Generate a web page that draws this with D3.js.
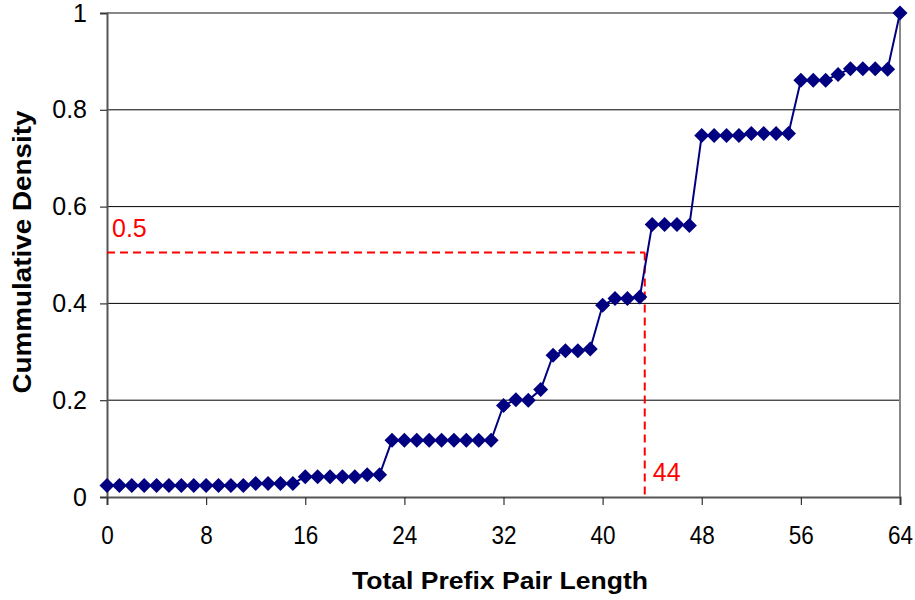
<!DOCTYPE html>
<html><head><meta charset="utf-8">
<script src="https://cdn.jsdelivr.net/npm/d3@7"></script>
<style>body{margin:0;background:#fff}svg{display:block}text{font-family:Arial,"Liberation Sans",sans-serif}</style>
</head><body><svg id="c" width="915" height="600"></svg>
<script>
const xValues = d3.range(0, 65);
const densities = [
  0.024,0.024,0.024,0.024,0.024,0.024,0.024,0.024,0.024,0.024,0.024,0.024,
  0.028,0.028,0.028,0.028,
  0.042,0.042,0.042,0.042,0.042,0.046,0.046,
  0.117,0.117,0.117,0.117,0.117,0.117,0.117,0.117,0.117,
  0.189,0.201,0.200,0.222,
  0.293,0.302,0.302,0.306,
  0.396,0.410,0.410,0.413,
  0.563,0.563,0.563,0.561,
  0.747,0.747,0.747,0.747,0.751,0.751,0.751,0.751,
  0.861,0.861,0.861,0.873,0.885,0.885,0.885,0.884,
  1.0
];
const xTicks = [0,8,16,24,32,40,48,56,64];
const yTicks = [0,0.2,0.4,0.6,0.8,1];
const yTickLabels = ["0","0.2","0.4","0.6","0.8","1"];
const medianMarkX = 43.4, medianMarkY = 0.505;
const medianLabelX = "44", medianLabelY = "0.5";
const xTitle = "Total Prefix Pair Length", yTitle = "Cummulative Density";

const svg = d3.select("#c");
const L=107, R=900, T=13, B=497;
const x = d3.scaleLinear().domain([0,64]).range([L,R]);
const y = d3.scaleLinear().domain([0,1]).range([B,T]);

svg.append("g").selectAll("line").data(yTicks.filter(v=>v>0&&v<1)).join("line")
  .attr("x1",L).attr("x2",R).attr("y1",d=>y(d)).attr("y2",d=>y(d))
  .attr("stroke","#000").attr("stroke-width",1);
svg.append("line").attr("x1",L).attr("x2",R).attr("y1",y(1)).attr("y2",y(1)).attr("stroke","#888").attr("stroke-width",2);
svg.append("line").attr("x1",R).attr("x2",R).attr("y1",T).attr("y2",B).attr("stroke","#888").attr("stroke-width",2);

const yAxis = svg.append("g").attr("transform",`translate(${L},0)`)
  .call(d3.axisLeft(y).tickValues(yTicks).tickFormat((d,i)=>yTickLabels[i]).tickSize(7).tickPadding(13));
const xAxis = svg.append("g").attr("transform",`translate(0,${B})`)
  .call(d3.axisBottom(x).tickValues(xTicks).tickFormat(d3.format("d")).tickSize(8).tickPadding(21));
[yAxis,xAxis].forEach(a=>{
  a.select(".domain").attr("stroke","#555").attr("stroke-width",2);
  a.selectAll(".tick line").attr("stroke","#333").attr("stroke-width",1.2);
  a.selectAll("text").attr("fill","#000").attr("font-family","Arial, 'Liberation Sans', sans-serif");
});
yAxis.selectAll("text").attr("font-size",25);
xAxis.selectAll("text").attr("font-size",25).attr("transform","scale(0.9,1)");

svg.append("line").attr("x1",L).attr("x2",x(medianMarkX)).attr("y1",y(medianMarkY)).attr("y2",y(medianMarkY))
  .attr("stroke","#f00").attr("stroke-width",2).attr("stroke-dasharray","8,5");
svg.append("line").attr("x1",x(medianMarkX)).attr("x2",x(medianMarkX)).attr("y1",y(medianMarkY)).attr("y2",B)
  .attr("stroke","#f00").attr("stroke-width",2).attr("stroke-dasharray","8,5");
svg.append("text").attr("x",L+5).attr("y",237).attr("fill","#f00").attr("font-size",25).text(medianLabelY);
svg.append("text").attr("x",x(medianMarkX)+8).attr("y",481).attr("fill","#f00").attr("font-size",25).text(medianLabelX);

const pts = xValues.map((v,i)=>[v,densities[i]]);
svg.append("path").datum(pts).attr("fill","none").attr("stroke","#000080").attr("stroke-width",2)
  .attr("d",d3.line().x(d=>x(d[0])).y(d=>y(d[1])));
svg.append("g").selectAll("path").data(pts).join("path")
  .attr("transform",d=>`translate(${x(d[0])},${y(d[1])})`)
  .attr("d","M0,-7.5L7.5,0L0,7.5L-7.5,0Z").attr("fill","#000080");

svg.append("text").attr("x",500).attr("y",589).attr("text-anchor","middle")
  .attr("font-size",24).attr("font-weight","bold").attr("textLength",296).attr("lengthAdjust","spacingAndGlyphs").text(xTitle);
svg.append("text").attr("transform",`translate(31,${(T+B)/2-3}) rotate(-90)`).attr("text-anchor","middle")
  .attr("font-size",26).attr("font-weight","bold").attr("textLength",283).attr("lengthAdjust","spacingAndGlyphs").text(yTitle);
</script></body></html>
